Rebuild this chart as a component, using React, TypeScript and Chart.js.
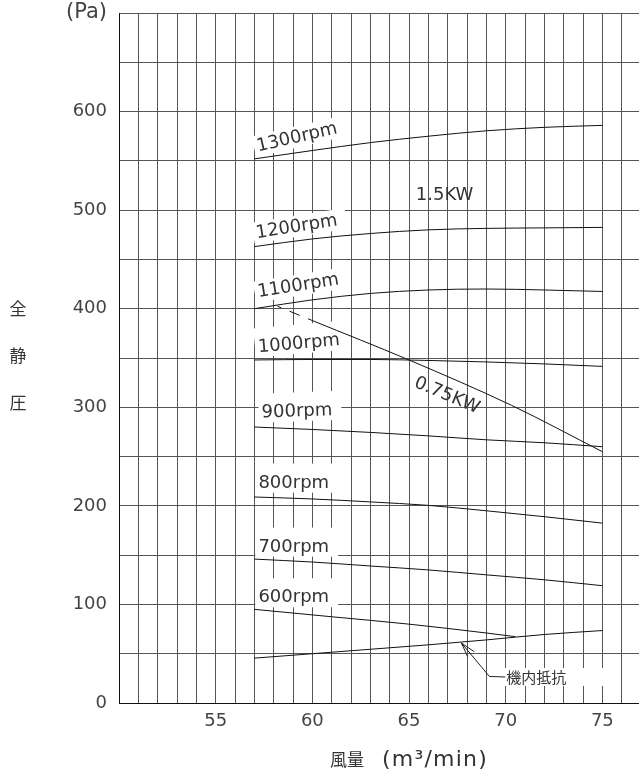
import React, { useEffect, useRef } from 'react';
import { Chart, registerables } from 'chart.js';

Chart.register(...registerables);

// ---- data (flow m3/min vs total static pressure Pa) ----
const FLOW = [57, 60, 63, 66, 69, 72, 75];
const RPM1300 = [552, 560.5, 568.5, 575, 580.5, 584, 586];
const RPM1200 = [463, 470.8, 476.3, 480, 481.5, 482, 482.5];
const RPM1100 = [400, 409, 415.5, 419, 420, 419, 417.5];
const RPM1000 = [348, 348.5, 348.5, 347.5, 346, 344, 341.5];
const RPM900 = [280, 277.5, 274.5, 271, 267, 264, 260];
const RPM800 = [209, 207, 204, 200.5, 195, 189, 182.5];
const RPM700 = [146, 143, 139, 135, 130, 125, 119];
const FLOW600 = [57, 61, 65, 69, 70.5];
const RPM600 = [95, 87.5, 80, 71, 67.3];
const RESISTANCE = [45.5, 50, 54.5, 59, 64, 69.5, 73.5];
const FLOW_075KW = [58.2, 60, 65, 70.3, 75];
const KW075 = [402.5, 388, 348, 302, 255];

const X_MIN = 50;
const X_MAX = 80;
const Y_MIN = 0;
const Y_MAX = 700;
const X_TICK_LABELS = [55, 60, 65, 70, 75];
const Y_TICK_LABELS = [0, 100, 200, 300, 400, 500, 600];
const Y_UNIT = '(Pa)';
const Y_TITLE = ['全', '静', '圧'];
const X_TITLE_JA = '風量';
const X_TITLE_UNIT = '(m³/min)';

// curve labels: anchor (data coords, baseline-left), rotation in degrees
const CURVE_LABELS = [
  { text: '1300rpm', x: 57.19, y: 559.5, angle: -13, box: true },
  { text: '1200rpm', x: 57.13, y: 471.6, angle: -9, box: true },
  { text: '1100rpm', x: 57.21, y: 411.8, angle: -9, box: true },
  { text: '1000rpm', x: 57.21, y: 355.9, angle: -5, box: true },
  { text: '900rpm', x: 57.39, y: 289.6, angle: -2, box: true },
  { text: '800rpm', x: 57.21, y: 218.5, angle: 0, box: true },
  { text: '700rpm', x: 57.21, y: 153.6, angle: 0, box: true },
  { text: '600rpm', x: 57.21, y: 102.2, angle: 0, box: true },
  { text: '1.5KW', x: 65.35, y: 510.5, angle: 0, box: false },
  { text: '0.75KW', x: 65.22, y: 321.2, angle: 23, box: false },
];
const RESIST_LABEL = { text: '機内抵抗', x: 70.03, y: 26.4 };
const RESIST_ARROW_TIP = { x: 67.71, y: 60.9 };
const RESIST_ELBOW = { x: 69.16, y: 26.9 };

const toPts = (xs: number[], ys: number[]) => xs.map((x, i) => ({ x, y: ys[i] }));

const annotPlugin = {
  id: 'annot',
  beforeDatasetsDraw(chart: any) {
    const { ctx, scales } = chart;
    const xs = scales.x;
    const ys = scales.y;
    ctx.save();
    ctx.font = '18px "DejaVu Sans"';
    ctx.fillStyle = '#ffffff';
    for (const l of CURVE_LABELS) {
      if (!l.box) continue;
      const px = xs.getPixelForValue(l.x);
      const py = ys.getPixelForValue(l.y);
      const w = ctx.measureText(l.text).width;
      const top = Math.abs(l.angle) >= 9 ? -16 : -24;
      ctx.save();
      ctx.translate(px, py);
      ctx.rotate((l.angle * Math.PI) / 180);
      ctx.fillRect(-3, top, w + 12, 5 - top);
      ctx.restore();
    }
    const tx = xs.getPixelForValue(RESIST_LABEL.x);
    const ty = ys.getPixelForValue(RESIST_LABEL.y);
    ctx.fillRect(tx - 2, ty - 9, 99, 18);
    ctx.restore();
  },
  afterDatasetsDraw(chart: any) {
    const { ctx, scales } = chart;
    const xs = scales.x;
    const ys = scales.y;
    ctx.save();
    ctx.fillStyle = '#333';
    ctx.textAlign = 'left';
    ctx.textBaseline = 'alphabetic';
    ctx.font = '18px "DejaVu Sans"';
    for (const l of CURVE_LABELS) {
      const px = xs.getPixelForValue(l.x);
      const py = ys.getPixelForValue(l.y);
      ctx.save();
      ctx.translate(px, py);
      ctx.rotate((l.angle * Math.PI) / 180);
      ctx.fillText(l.text, 0, 0);
      ctx.restore();
    }
    const tx = xs.getPixelForValue(RESIST_LABEL.x);
    const ty = ys.getPixelForValue(RESIST_LABEL.y);
    ctx.font = '15px "Noto Sans CJK JP"';
    ctx.textBaseline = 'middle';
    ctx.fillText(RESIST_LABEL.text, tx, ty);
    const ax = xs.getPixelForValue(RESIST_ARROW_TIP.x);
    const ay = ys.getPixelForValue(RESIST_ARROW_TIP.y);
    const ex = xs.getPixelForValue(RESIST_ELBOW.x);
    const ey = ys.getPixelForValue(RESIST_ELBOW.y);
    ctx.strokeStyle = '#222';
    ctx.lineWidth = 1;
    ctx.beginPath();
    ctx.moveTo(tx - 1, ty);
    ctx.lineTo(ex, ey);
    ctx.lineTo(ax, ay);
    ctx.moveTo(ax + 12.8, ay + 8.7);
    ctx.lineTo(ax, ay);
    ctx.lineTo(ax + 6.2, ay + 13.7);
    ctx.stroke();

    ctx.font = '17px "Noto Sans CJK JP"';
    ctx.textAlign = 'center';
    ctx.textBaseline = 'middle';
    const yMid = ys.getPixelForValue(352);
    const gaps = [-47, 0, 47];
    Y_TITLE.forEach((ch, i) => ctx.fillText(ch, 18, yMid + gaps[i]));

    const titleY = chart.chartArea.bottom + 57;
    ctx.textAlign = 'left';
    ctx.font = '17px "Noto Sans CJK JP"';
    ctx.fillText(X_TITLE_JA, 330, titleY);
    ctx.font = '22px "DejaVu Sans"';
    (ctx as any).letterSpacing = '1.2px';
    ctx.fillText(X_TITLE_UNIT, 382, titleY);
    ctx.restore();
  },
};

export default function App() {
  const ref = useRef<HTMLCanvasElement | null>(null);
  useEffect(() => {
    if (!ref.current) return;
    const line = (data: any[], extra: any = {}) => ({
      data,
      borderColor: '#111',
      borderWidth: 1,
      pointRadius: 0,
      fill: false,
      cubicInterpolationMode: 'monotone',
      ...extra,
    });
    const chart = new Chart(ref.current, {
      type: 'line',
      data: {
        datasets: [
          line(toPts(FLOW, RPM1300)),
          line(toPts(FLOW, RPM1200)),
          line(toPts(FLOW, RPM1100)),
          line(toPts(FLOW, RPM1000)),
          line(toPts(FLOW, RPM900)),
          line(toPts(FLOW, RPM800)),
          line(toPts(FLOW, RPM700)),
          line(toPts(FLOW600, RPM600)),
          line(toPts(FLOW, RESISTANCE)),
          line(toPts(FLOW_075KW, KW075), {
            segment: {
              borderDash: (c: any) => (c.p0DataIndex === 0 ? [4, 9, 11, 9, 1000, 0] : undefined),
            },
          }),
        ],
      },
      options: {
        animation: false,
        responsive: false,
        devicePixelRatio: 1,
        layout: { padding: { top: 13, right: 3, left: 0, bottom: 0 } },
        plugins: { legend: { display: false }, tooltip: { enabled: false } },
        scales: {
          x: {
            type: 'linear',
            min: X_MIN,
            max: X_MAX,
            afterFit: (s: any) => {
              s.height = 75;
            },
            grid: { color: '#555', lineWidth: 1, drawTicks: false },
            border: { color: '#111', width: 1 },
            ticks: {
              stepSize: 1,
              autoSkip: false,
              maxRotation: 0,
              padding: 8,
              color: '#444',
              font: { family: 'DejaVu Sans', size: 18 },
              callback: (v: any) => (X_TICK_LABELS.includes(Number(v)) ? String(v) : ''),
            },
          },
          y: {
            type: 'linear',
            min: Y_MIN,
            max: Y_MAX,
            afterFit: (s: any) => {
              s.width = 119;
              s.paddingTop = 0;
              s.paddingBottom = 0;
            },
            grid: { color: '#555', lineWidth: 1, drawTicks: false },
            border: { color: '#111', width: 1 },
            ticks: {
              stepSize: 50,
              autoSkip: false,
              padding: 12,
              color: '#444',
              font: (c: any) => ({
                family: 'DejaVu Sans',
                size: c.tick && c.tick.value === Y_MAX ? 21 : 18,
              }),
              callback: (v: any) => {
                const n = Number(v);
                if (n === Y_MAX) return Y_UNIT;
                return Y_TICK_LABELS.includes(n) ? String(n) : '';
              },
            },
          },
        },
      },
      plugins: [annotPlugin],
    });
    return () => chart.destroy();
  }, []);
  return (
    <div
      style={{
        position: 'fixed',
        left: 0,
        top: 0,
        width: 639,
        height: 778,
        overflow: 'hidden',
        background: '#fff',
      }}
    >
      <canvas ref={ref} width={707} height={778} style={{ width: 707, height: 778, display: 'block' }} />
    </div>
  );
}
